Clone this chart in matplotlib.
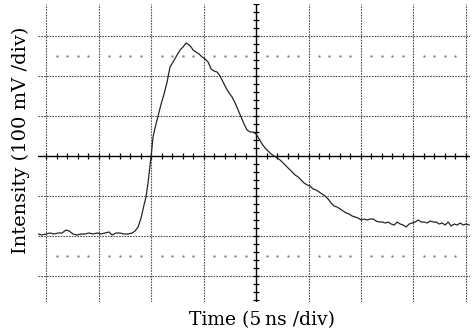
import numpy as np
import matplotlib
matplotlib.use("Agg")
import matplotlib.pyplot as plt

# trace: time in ns (0 = screen centre), intensity in mV
time_ns = [
    -20.80, -20.42, -20.04, -19.66, -19.27, -18.89, -18.51, -18.13, -17.84, -17.46,
    -17.08, -16.70, -16.32, -15.94, -15.55, -15.17, -14.79, -14.41, -14.03, -13.74,
    -13.36, -12.98, -12.60, -12.21, -11.83, -11.55, -11.26, -10.97, -10.69, -10.50,
    -10.31, -10.11, -10.02, -9.83, -9.64, -9.35, -9.06, -8.78, -8.49, -8.21,
    -7.92, -7.54, -7.25, -6.97, -6.68, -6.39, -6.20, -6.01, -5.73, -5.44,
    -5.15, -4.87, -4.58, -4.29, -4.01, -3.72, -3.44, -3.15, -2.86, -2.58,
    -2.29, -2.00, -1.72, -1.43, -1.15, -0.86, -0.57, -0.29, 0.00, 0.29,
    0.57, 0.86, 1.15, 1.43, 1.72, 2.00, 2.29, 2.58, 2.86, 3.15,
    3.44, 3.72, 4.01, 4.29, 4.58, 4.87, 5.15, 5.44, 5.73, 6.01,
    6.30, 6.58, 6.87, 7.16, 7.44, 7.73, 8.02, 8.30, 8.59, 8.87,
    9.16, 9.45, 9.73, 10.02, 10.31, 10.59, 10.88, 11.16, 11.45, 11.74,
    12.02, 12.31, 12.60, 12.88, 13.17, 13.45, 13.74, 14.03, 14.31, 14.60,
    14.89, 15.17, 15.46, 15.74, 16.03, 16.32, 16.60, 16.89, 17.18, 17.46,
    17.75, 18.03, 18.32, 18.61, 18.89, 19.18, 19.47, 19.75, 20.04, 20.32,
]
intensity_mv = [
    -195, -197.5, -195, -192.5, -195, -192.5, -192.5, -185, -187.5, -195,
    -197.5, -195, -195, -192.5, -195, -192.5, -195, -192.5, -190, -197.5,
    -192.5, -192.5, -195, -195, -192.5, -187.5, -177.5, -155, -122.5, -102.5,
    -67.5, -22.5, -2.5, 47.5, 70, 100, 130, 155, 185, 222.5,
    235, 252.5, 265, 272.5, 282.5, 277.5, 272.5, 265, 260, 255,
    247.5, 242.5, 235, 217.5, 212.5, 210, 200, 185, 170, 157.5,
    147.5, 132.5, 115, 97.5, 80, 65, 60, 60, 55, 42.5,
    30, 20, 12.5, 5, 0, -5, -10, -17.5, -25, -32.5,
    -40, -47.5, -52.5, -60, -67.5, -72.5, -75, -82.5, -85, -90,
    -95, -100, -107.5, -117.5, -125, -127.5, -132.5, -137.5, -142.5, -145,
    -150, -152.5, -155, -160, -157.5, -160, -157.5, -157.5, -162.5, -165,
    -165, -167.5, -165, -170, -172.5, -165, -170, -172.5, -177.5, -170,
    -167.5, -165, -160, -165, -165, -167.5, -162.5, -165, -165, -170,
    -167.5, -172.5, -165, -175, -170, -172.5, -167.5, -172.5, -170, -172.5,
]

x_major = [-20, -15, -10, -5, 5, 10, 15, 20]
y_major = [-300, -200, -100, 100, 200, 300]
marker_levels = [250, -250]

fig = plt.figure(figsize=(4.77, 3.35), dpi=100)
ax = fig.add_axes([0.0797, 0.0985, 0.9056, 0.8895])
ax.set_xlim(-20.8, 20.4)
ax.set_ylim(-365, 380)
ax.axis("off")

grid_kw = dict(color="#505050", linewidth=0.8, linestyle=(0, (1.5, 1)))
for xv in x_major:
    ax.axvline(xv, **grid_kw)
for yv in y_major:
    ax.axhline(yv, **grid_kw)

# dotted marker rows at minor divisions
dot_x = [t for t in range(-19, 20) if t % 5 != 0]
for lvl in marker_levels:
    ax.plot(dot_x, [lvl] * len(dot_x), linestyle="none", marker="s",
            markersize=0.7, color="#8a8a8a")

# centre axes with minor ticks
ax.axhline(0, color="black", linewidth=1.0)
ax.axvline(0, color="black", linewidth=1.0)
xt = [t for t in range(-20, 21) if t != 0]
ax.plot(xt, [0] * len(xt), linestyle="none", marker="|", markersize=5,
        markeredgewidth=0.9, color="black")
yt = [v for v in range(-360, 381, 20) if v != 0]
ax.plot([0] * len(yt), yt, linestyle="none", marker="_", markersize=5,
        markeredgewidth=0.9, color="black")

ax.plot(time_ns, intensity_mv, color="#262626", linewidth=0.9)

fig.text(0.549, 0.045, "Time (5\u2009ns /div)", family="DejaVu Serif",
         fontsize=13.5, ha="center", va="center")
fig.text(0.044, 0.58, "Intensity (100 mV /div)", family="DejaVu Serif",
         fontsize=14, ha="center", va="center", rotation=90)

fig.savefig("out.png", dpi=100, facecolor="white")
